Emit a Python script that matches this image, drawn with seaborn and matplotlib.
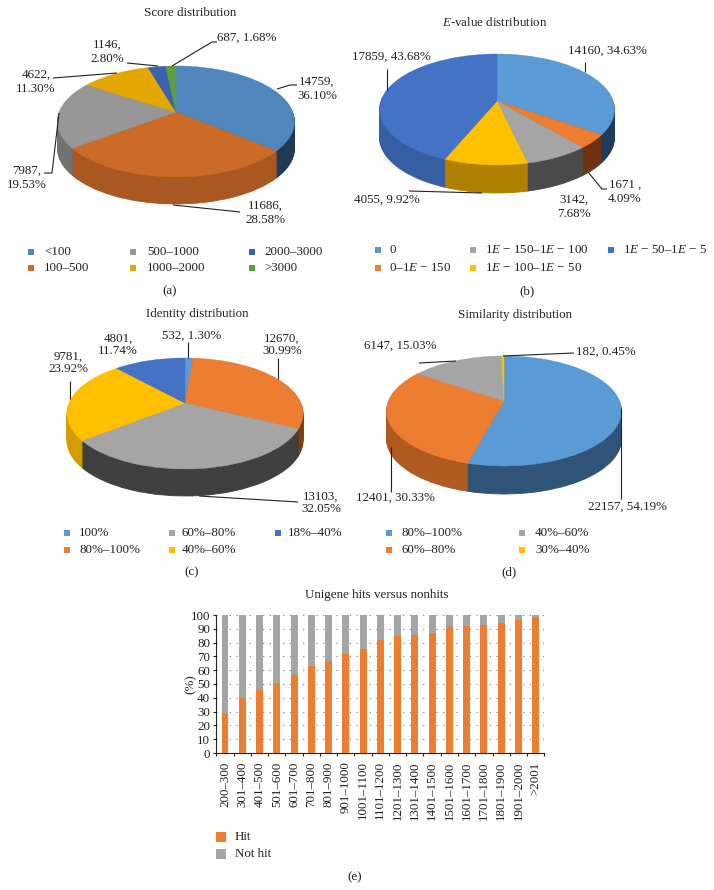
import numpy as np
import pandas as pd
import seaborn as sns
import matplotlib.pyplot as plt
from matplotlib.patches import PathPatch
from matplotlib.path import Path

sns.set_theme(style="white")
plt.rcParams['font.family'] = ['Liberation Serif', 'DejaVu Serif']
plt.rcParams['mathtext.fontset'] = 'custom'
plt.rcParams['mathtext.rm'] = 'Liberation Serif'
plt.rcParams['mathtext.it'] = 'Liberation Serif:italic'
plt.rcParams['mathtext.default'] = 'regular'

TXT = '#231f20'
FS = 9.4

# pie data
score_vals = [14759, 11686, 7987, 4622, 1146, 687]
score_names = ['<100', '100–500', '500–1000', '1000–2000', '2000–3000', '>3000']
score_labels = ['14759,\n36.10%', '11686,\n28.58%', '7987,\n19.53%', '4622,\n11.30%', '1146,\n2.80%', '687, 1.68%']

evalue_vals = [14160, 1671, 3142, 4055, 17859]
evalue_names = ['0', '0–1$\\it{E}$ − 150', '1$\\it{E}$ − 150–1$\\it{E}$ − 100', '1$\\it{E}$ − 100–1$\\it{E}$ − 50',
                '1$\\it{E}$ − 50–1$\\it{E}$ − 5']
evalue_labels = ['14160, 34.63%', '1671 ,\n4.09%', '3142,\n7.68%', '4055, 9.92%', '17859, 43.68%']

identity_vals = [532, 12670, 13103, 9781, 4801]
identity_names = ['100%', '80%–100%', '60%–80%', '40%–60%', '18%–40%']
identity_labels = ['532, 1.30%', '12670,\n30.99%', '13103,\n32.05%', '9781,\n23.92%', '4801,\n11.74%']

similarity_vals = [22157, 12401, 6147, 182]
similarity_names = ['80%–100%', '60%–80%', '40%–60%', '30%–40%']
similarity_labels = ['22157, 54.19%', '12401, 30.33%', '6147, 15.03%', '182, 0.45%']

# bar data
length_bins = ['200–300', '301–400', '401–500', '501–600', '601–700', '701–800', '801–900', '901–1000',
               '1001–1100', '1101–1200', '1201–1300', '1301–1400', '1401–1500', '1501–1600', '1601–1700',
               '1701–1800', '1801–1900', '1901–2000', '>2001']
hit_pct = [28, 40, 46, 50.5, 56.5, 63, 67, 72, 75.5, 82, 84.5, 85.5, 87, 91, 92, 93, 94, 96.5, 98.5]
not_hit_pct = [72, 60, 54, 49.5, 43.5, 37, 33, 28, 24.5, 18, 15.5, 14.5, 13, 9, 8, 7, 6, 3.5, 1.5]

fig = plt.figure(figsize=(7.14, 8.9), dpi=100)
ax = fig.add_axes([0, 0, 1, 1], zorder=5)


def project(path, apex, rx, back, front, drop=0):
    # tilt the flat unit pie so that the back of the disc looks further away
    k = (front - back) / (front + back)
    sy = back * (1 + k)
    sx = rx * np.sqrt(1 - k ** 2)
    v = path.vertices
    w = 1 + k * v[:, 1]
    px = apex[0] + sx * v[:, 0] / w
    py = apex[1] - sy * v[:, 1] / w + drop
    return Path(np.column_stack([px, py]), path.codes)


def pie3d(vals, top, side, apex, rx, back, front, depth):
    wedges, _ = ax.pie(vals, colors=sns.color_palette(top), startangle=90, counterclock=False)
    for d in range(depth, 0, -1):
        for wedge, c in zip(wedges, side):
            ax.add_patch(PathPatch(project(wedge.get_path(), apex, rx, back, front, d), fc=c, ec=c, lw=0.6))
    for wedge, c in zip(wedges, top):
        ax.add_patch(PathPatch(project(wedge.get_path(), apex, rx, back, front), fc=c, ec=c, lw=0.3))
    for wedge in wedges:
        wedge.remove()


def label(s, x, y, spacing=1.1):
    ax.text(x, y, s, ha='center', va='center', fontsize=FS, color=TXT, linespacing=spacing)


def leader(xs, ys):
    ax.plot(xs, ys, color='#222222', lw=0.8, solid_capstyle='butt')


def legend(names, colors, sq_x, txt_x, rows, size=20):
    # columns fill top to bottom, last column may hold a single entry
    n = 0
    for col in range(len(sq_x)):
        for row in rows:
            if n >= len(names):
                break
            ax.scatter([sq_x[col]], [row], marker='s', s=size, color=colors[n], linewidths=0)
            ax.text(txt_x[col], row, names[n], ha='left', va='center', fontsize=FS, color=TXT)
            n += 1


# (a)
top = ['#4f86bb', '#cc6a27', '#979797', '#e2a800', '#3b62b0', '#5d9e3e']
side = ['#1e3a55', '#a85820', '#727272', '#a87c00', '#2a4680', '#44752e']
pie3d(score_vals, top, side, (176, 112), 118.5, 46, 65, 27)
label('Score distribution', 190, 13)
label(score_labels[0], 317, 89, 1.25)
leader([277, 290, 297], [89, 85, 85])
label(score_labels[1], 265, 213, 1.25)
leader([173, 240], [205, 212])
label(score_labels[2], 27, 178, 1.25)
leader([59, 52, 44], [113, 173, 173])
label(score_labels[3], 36, 82, 1.25)
leader([53, 117], [78, 73])
label(score_labels[4], 107, 52, 1.25)
leader([127, 158], [63, 66])
label(score_labels[5], 247, 38)
leader([172, 212, 217], [66, 42, 42])
legend(score_names, top, [31, 133, 252], [44, 147, 264], [252, 268])
label('(a)', 170, 291)

# (b)
top = ['#5b9bd5', '#ed7d31', '#a5a5a5', '#ffc000', '#4472c4']
side = ['#1d3d5a', '#6e3310', '#4a4a4a', '#ae8000', '#365fa3']
pie3d(evalue_vals, top, side, (497, 101), 117.5, 47, 64, 28)
ax.text(495, 22, '$\\it{E}$-value distribution', ha='center', va='center', fontsize=FS, color=TXT)
label(evalue_labels[0], 607, 51)
leader([585, 585], [62, 72])
label(evalue_labels[1], 625, 192, 1.2)
leader([588, 602, 607], [172, 189, 189])
label(evalue_labels[2], 574, 207, 1.2)
label(evalue_labels[3], 387, 200)
leader([409, 482], [191, 193])
label(evalue_labels[4], 391, 57)
leader([387, 387], [69, 91])
legend(evalue_names, top, [378, 473, 611], [389, 485, 623], [250, 268])
label('(b)', 527, 291)

# (c)
top = ['#5b9bd5', '#ed7d31', '#a5a5a5', '#ffc000', '#4472c4']
side = ['#2f5478', '#843c0c', '#404040', '#d49c00', '#365fa3']
pie3d(identity_vals, top, side, (185, 403), 118, 45, 66, 27)
label('Identity distribution', 197, 314)
label(identity_labels[0], 192, 336)
leader([188, 188], [342, 358])
label(identity_labels[1], 282, 345)
leader([278, 278], [358, 379])
label(identity_labels[2], 321, 503)
leader([199, 298], [496, 502])
label(identity_labels[3], 68, 363)
leader([70, 70], [381, 399])
label(identity_labels[4], 118, 345)
legend(identity_names, top, [67, 172, 278], [79, 182, 288], [533, 550])
label('(c)', 192, 572)

# (d)
top = ['#5b9bd5', '#ed7d31', '#a5a5a5', '#ffc000']
side = ['#2f5478', '#ae5a21', '#6e6e6e', '#ae8000']
pie3d(similarity_vals, top, side, (504, 401), 117.5, 45, 65, 28)
label('Similarity distribution', 515, 315)
label(similarity_labels[0], 627, 507)
leader([621, 621], [408, 499])
label(similarity_labels[1], 395, 498)
leader([391, 391], [447, 492])
label(similarity_labels[2], 400, 346)
leader([419, 456], [363, 361])
label(similarity_labels[3], 606, 352)
leader([503, 574], [356, 353])
legend(similarity_names, top, [389, 522], [402, 535], [533, 550])
label('(d)', 509, 572)

# (e)
label('Unigene hits versus nonhits', 377, 595)
legend(['Hit', 'Not hit'], ['#ed7d31', '#a5a5a5'], [221], [235], [837, 854], size=50)
ax.text(191, 684, '(%)', rotation=90, ha='center', va='center', fontsize=FS, color=TXT)
label('(e)', 355, 877)

ax.set_xlim(0, 714)
ax.set_ylim(890, 0)
ax.set_aspect('auto')
ax.axis('off')

W, H = 714.0, 890.0
ax2 = fig.add_axes([216.4 / W, 1 - 753 / H, (544.3 - 216.4) / W, (753 - 615) / H])
df = pd.DataFrame({'bin': length_bins, 'hit': hit_pct, 'not_hit': not_hit_pct})
sns.barplot(data=df, x='bin', y='hit', color='#ed7d31', width=0.4, saturation=1, linewidth=0, ax=ax2, zorder=3)
sns.barplot(data=df, x='bin', y='not_hit', bottom=df['hit'], color='#a5a5a5', width=0.4, saturation=1, linewidth=0,
            ax=ax2, zorder=3)
ax2.set_xlim(-0.5, len(length_bins) - 0.5)
ax2.set_ylim(0, 100)
ax2.set_yticks(range(0, 101, 10))
ax2.set_xlabel('')
ax2.set_ylabel('')
ax2.grid(axis='y', ls=(0, (1, 5)), color='#777777', lw=0.8, zorder=0)
ax2.set_xticks(np.arange(-0.5, len(length_bins), 1), minor=True)
ax2.tick_params(axis='x', which='major', length=0, pad=6, rotation=90, labelsize=FS, colors=TXT)
ax2.tick_params(axis='x', which='minor', length=2.5, width=0.8, color='#222222', bottom=True)
ax2.tick_params(axis='y', length=2.5, width=0.8, left=True, pad=2, labelsize=FS, colors=TXT)
sns.despine(ax=ax2)
for s in ['left', 'bottom']:
    ax2.spines[s].set_color('#222222')
    ax2.spines[s].set_linewidth(0.8)

fig.savefig('out.png', dpi=100)
